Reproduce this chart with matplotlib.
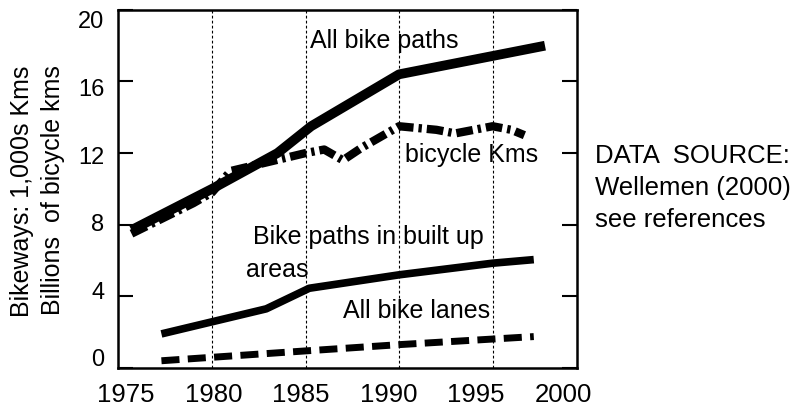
import matplotlib
matplotlib.use("Agg")
import matplotlib.pyplot as plt

plt.rcParams['font.family'] = ['Liberation Sans', 'DejaVu Sans']

# All bike paths (1,000s km)
paths_years = [1975.7, 1980, 1983.5, 1985.3, 1990, 1997.8]
paths_vals = [7.7, 10.0, 12.0, 13.5, 16.4, 18.0]

# Bicycle kms (billions)
bike_years = [1975.7, 1979, 1980, 1981, 1983, 1985, 1986, 1987, 1988, 1990,
              1991, 1992, 1993, 1994, 1995, 1996, 1996.7]
bike_vals = [7.5, 9.2, 9.8, 11.0, 11.5, 12.0, 12.2, 11.6, 12.3, 13.5,
             13.4, 13.3, 13.1, 13.3, 13.5, 13.3, 13.0]

# Bike paths in built up areas
built_years = [1977.3, 1982.9, 1985.2, 1990, 1995, 1997.2]
built_vals = [1.9, 3.3, 4.45, 5.2, 5.85, 6.05]

# All bike lanes
lanes_years = [1977.3, 1985, 1990, 1997.2]
lanes_vals = [0.4, 0.95, 1.3, 1.75]

x_ticks = [1975, 1980, 1985, 1990, 1995, 2000]
y_ticks = [0, 4, 8, 12, 16, 20]
grid_years = [1980, 1985, 1990, 1995]

fig = plt.figure(figsize=(8, 4.12), dpi=100)
ax = fig.add_axes([0.148, 0.107, 0.573, 0.869])

for g in grid_years:
    ax.axvline(g, color='black', lw=0.8, ls=(0, (2.5, 2)), zorder=1)

ax.plot(paths_years, paths_vals, color='black', lw=7, solid_capstyle='butt', zorder=3)
ax.plot(bike_years, bike_vals, color='black', lw=6, dashes=(2.0, 0.6, 0.4, 0.6),
        dash_capstyle='butt', zorder=3)
ax.plot(built_years, built_vals, color='black', lw=5.5, solid_capstyle='butt', zorder=3)
ax.plot(lanes_years, lanes_vals, color='black', lw=5, dashes=(2.6, 1.2),
        dash_capstyle='butt', zorder=3)

fs = 18
ax.text(1989.2, 18.25, "All bike paths", fontsize=fs, ha='center', va='center')
ax.text(1990.3, 11.9, "bicycle Kms", fontsize=fs, ha='left', va='center')
ax.text(1982.2, 7.3, "Bike paths in built up", fontsize=fs, ha='left', va='center')
ax.text(1981.8, 5.45, "areas", fontsize=fs, ha='left', va='center')
ax.text(1987.0, 3.2, "All bike lanes", fontsize=fs, ha='left', va='center')

ax.set_xlim(1975, 1999.5)
ax.set_ylim(0, 20)
ax.set_yticks(y_ticks)
ax.set_xticks([])
ax.tick_params(axis='y', direction='in', length=11, width=1.5,
               labelleft=False, right=True)
for s in ax.spines.values():
    s.set_linewidth(1.8)

# tick labels sit slightly tighter than the tick marks in the original
def xf(p):
    return 1975 + (p - 1975.401) / 0.9353

def xi(v):
    return 1975.401 + 0.9353 * (v - 1975)

def yf(q):
    return (q - 0.5587) / 0.9441

def yi(v):
    return 0.5587 + 0.9441 * v

secx = ax.secondary_xaxis('bottom', functions=(xf, xi))
secx.set_xticks(x_ticks)
secx.tick_params(length=0, pad=11, labelsize=18.5)
secy = ax.secondary_yaxis('left', functions=(yf, yi))
secy.set_yticks(y_ticks)
secy.tick_params(length=0, pad=10, labelsize=17)
for sec in (secx, secy):
    for s in sec.spines.values():
        s.set_visible(False)

fig.text(0.028, 0.536, "Bikeways: 1,000s Kms", rotation=90, fontsize=fs,
         ha='center', va='center')
fig.text(0.066, 0.539, "Billions  of bicycle kms", rotation=90, fontsize=fs,
         ha='center', va='center')

fig.text(0.744, 0.604, "DATA  SOURCE:", fontsize=18.5, ha='left', va='baseline')
fig.text(0.744, 0.527, "Wellemen (2000)", fontsize=18.5, ha='left', va='baseline')
fig.text(0.744, 0.449, "see references", fontsize=18.5, ha='left', va='baseline')

fig.savefig("out.png", dpi=100)
